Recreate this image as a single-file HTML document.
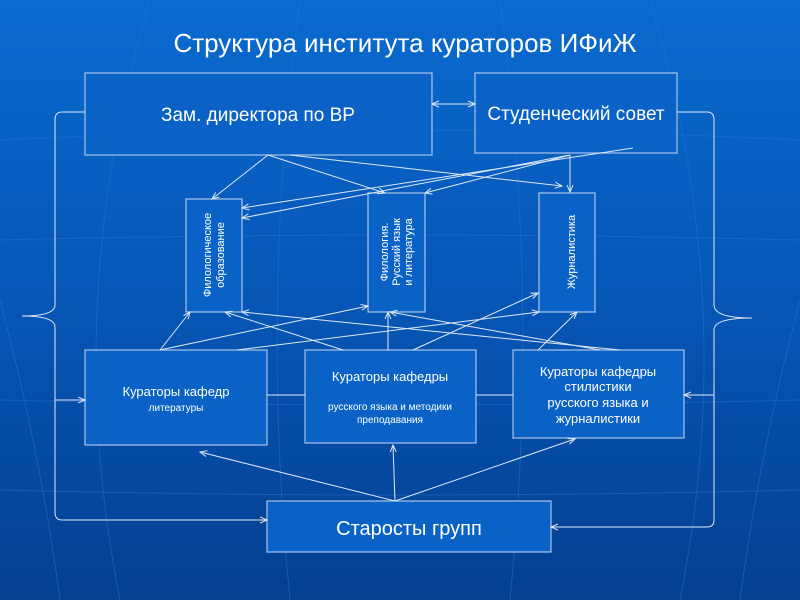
<!DOCTYPE html>
<html><head><meta charset="utf-8"><style>
html,body{margin:0;padding:0;width:800px;height:600px;overflow:hidden}
svg{display:block}
text{font-family:"Liberation Sans",sans-serif;fill:#fff}
</style></head><body>
<svg width="800" height="600" viewBox="0 0 800 600">
<defs>
<linearGradient id="bg" x1="0" y1="0" x2="0" y2="1">
<stop offset="0" stop-color="#0a6ad0"/><stop offset="0.5" stop-color="#0656b6"/><stop offset="1" stop-color="#043f90"/>
</linearGradient>
<marker id="a" markerWidth="8" markerHeight="8" refX="7" refY="4" orient="auto" markerUnits="userSpaceOnUse">
<path d="M0,1 L7,4 L0,7" fill="none" stroke="#dfe8f5" stroke-width="1"/></marker>
<marker id="s" markerWidth="8" markerHeight="8" refX="1" refY="4" orient="auto" markerUnits="userSpaceOnUse">
<path d="M8,1 L1,4 L8,7" fill="none" stroke="#dfe8f5" stroke-width="1"/></marker>
</defs>
<rect width="800" height="600" fill="url(#bg)"/>
<g stroke="#2a74c8" stroke-width="1" fill="none" opacity="0.5">
<path d="M0,140 Q400,120 800,140"/><path d="M0,240 Q400,230 800,240"/><path d="M0,400 Q400,410 800,400"/><path d="M0,490 Q400,500 800,490"/>
<path d="M150,0 Q60,300 120,600"/><path d="M650,0 Q740,300 680,600"/><path d="M300,0 Q260,300 290,600"/><path d="M500,0 Q540,300 510,600"/>
<path d="M0,300 Q40,450 60,600"/><path d="M800,300 Q760,450 740,600"/>
</g>
<text x="405" y="52" font-size="26" text-anchor="middle" fill="#e8f0fa">Структура института кураторов ИФиЖ</text>
<g fill="#0a62c6" stroke="#a8c4e8" stroke-width="1.2">
<rect x="85" y="73" width="347" height="82"/>
<rect x="475" y="73" width="202" height="80"/>
<rect x="186" y="199" width="56" height="113"/>
<rect x="368" y="193" width="57" height="119"/>
<rect x="539" y="193" width="56" height="119"/>
<rect x="85" y="350" width="182" height="95"/>
<rect x="305" y="350" width="171" height="93"/>
<rect x="513" y="350" width="171" height="88"/>
<rect x="267" y="501" width="284" height="51"/>
</g>
<g stroke="#dfe8f5" stroke-width="1" fill="none">
<line x1="432" y1="104" x2="475" y2="104" marker-start="url(#s)" marker-end="url(#a)"/>
<line x1="268" y1="155" x2="212" y2="199" marker-end="url(#a)"/>
<line x1="268" y1="155" x2="385" y2="193" marker-end="url(#a)"/>
<line x1="290" y1="155" x2="562" y2="186" marker-end="url(#a)"/>
<line x1="633" y1="148" x2="242" y2="208" marker-end="url(#a)"/>
<line x1="570" y1="155" x2="242" y2="218" marker-end="url(#a)"/>
<line x1="570" y1="155" x2="425" y2="193" marker-end="url(#a)"/>
<line x1="570" y1="155" x2="570" y2="192" marker-end="url(#a)"/>
<line x1="160" y1="350" x2="190" y2="312" marker-end="url(#a)"/>
<line x1="160" y1="350" x2="368" y2="306" marker-end="url(#a)"/>
<line x1="237" y1="350" x2="539" y2="312" marker-end="url(#a)"/>
<line x1="343" y1="350" x2="225" y2="312" marker-end="url(#a)"/>
<line x1="388" y1="350" x2="388" y2="312" marker-end="url(#a)"/>
<line x1="413" y1="350" x2="538" y2="293" marker-end="url(#a)"/>
<line x1="538" y1="350" x2="577" y2="312" marker-end="url(#a)"/>
<line x1="620" y1="350" x2="242" y2="312" marker-end="url(#a)"/>
<line x1="600" y1="350" x2="390" y2="312" marker-end="url(#a)"/>
<line x1="395" y1="501" x2="200" y2="452" marker-end="url(#a)"/>
<line x1="395" y1="501" x2="393" y2="445" marker-end="url(#a)"/>
<line x1="395" y1="501" x2="575" y2="439" marker-end="url(#a)"/>
<line x1="267" y1="395" x2="305" y2="395"/>
<line x1="476" y1="395" x2="513" y2="395"/>
<path d="M85,112 L62,112 Q55,112 55,120 L55,305 Q55,316 22,316 Q55,316 55,327 L55,512 Q55,520 62,520 L267,520" marker-end="url(#a)"/>
<line x1="55" y1="400" x2="85" y2="400" marker-end="url(#a)"/>
<path d="M677,112 L707,112 Q714,112 714,120 L714,305 Q714,318 752,318 Q714,318 714,330 L714,520 Q714,527 707,527 L551,527" marker-end="url(#a)"/>
<line x1="714" y1="395" x2="684" y2="395" marker-end="url(#a)"/>
</g>
<text x="258" y="121" font-size="19" text-anchor="middle">Зам. директора по ВР</text>
<text x="576" y="120" font-size="19" text-anchor="middle">Студенческий совет</text>
<text transform="translate(214,255) rotate(-90)" font-size="11" text-anchor="middle"><tspan x="0" y="-3">Филологическое</tspan><tspan x="0" y="10">образование</tspan></text>
<text transform="translate(397,252) rotate(-90)" font-size="11" text-anchor="middle"><tspan x="0" y="-9">Филология.</tspan><tspan x="0" y="3">Русский язык</tspan><tspan x="0" y="15">и литература</tspan></text>
<text transform="translate(571,252) rotate(-90)" font-size="11" text-anchor="middle"><tspan x="0" y="4">Журналистика</tspan></text>
<text x="176" y="396" font-size="13" text-anchor="middle">Кураторы кафедр</text>
<text x="176" y="411" font-size="10" text-anchor="middle">литературы</text>
<text x="390" y="381" font-size="13" text-anchor="middle">Кураторы кафедры</text>
<text x="390" y="410" font-size="10" text-anchor="middle">русского языка и методики</text>
<text x="390" y="423" font-size="10" text-anchor="middle">преподавания</text>
<g font-size="13" text-anchor="middle"><text x="598" y="376">Кураторы кафедры</text><text x="598" y="391">стилистики</text><text x="598" y="407">русского языка и</text><text x="598" y="423">журналистики</text></g>
<text x="409" y="535" font-size="20" text-anchor="middle">Старосты групп</text>
</svg>
</body></html>
